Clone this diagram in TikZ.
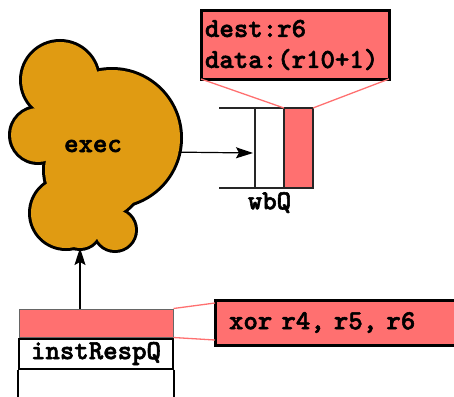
\documentclass[tikz,border=0pt]{standalone}
\usepackage{fontspec}
\usetikzlibrary{positioning, arrows.meta, calc}
\newfontfamily\codefont[FakeBold=2]{lmmonolt10-bold.otf}
\definecolor{qred}{RGB}{255,112,112}
\definecolor{execorange}{RGB}{224,155,18}

\begin{document}
\begin{tikzpicture}[x=1pt, y=-1pt,
font=\fontsize{27.5}{31}\codefont,
puff/.style={circle, fill=execorange, inner sep=0pt, outer sep=0pt},
slot/.style={
  draw=black!85, line width=1.3pt,
  minimum width=29pt, minimum height=80pt,
  inner sep=0pt, outer sep=0pt
},
tag/.style={
  draw, line width=3pt, fill=qred,
  inner sep=0pt, outer sep=0pt
},
link/.style={draw=qred, line width=1.3pt},
arrow/.style={-{Stealth[length=17pt,width=11pt,inset=3pt]}, line width=1.2pt}]

\useasboundingbox (0,0) rectangle (454,396);

% the exec cloud, built from puffs
\foreach \p/\x/\y/\r in {tl/60/80/38, l/38/135/27, big/112/138/68,
    mid/95/170/50, bl/66/213/35, bl2/80/228/20, br/115/230/20}
  \fill (\x,\y) circle[radius=\r+3];
\foreach \p/\x/\y/\r in {tl/60/80/38, l/38/135/27, big/112/138/68,
    mid/95/170/50, bl/66/213/35, bl2/80/228/20, br/115/230/20}
  \node (cloud-\p) [puff, minimum size=2*\r] at (\x,\y) {};
\node (exec) at (93,146) {exec};

% write-back queue
\node (slotA) [slot, fill=white] at (269.5,148) {};
\node (slotB) [slot, fill=qred, anchor=west] at (slotA.east) {};
\draw[line width=1.3pt, black!85] (slotB.north east) -- ([xshift=-36pt]slotA.north west);
\draw[line width=1.3pt, black!85] (slotB.south east) -- ([xshift=-36pt]slotA.south west);
\node (wbQ) [below=3pt of slotA, inner sep=1pt] {wbQ};

\node (wbHead) [tag, text width=180pt, inner xsep=4pt, inner ysep=4pt,
  minimum height=68pt, align=left] at (295,45)
  {dest:r6\\data:(r10+1)};
\draw[link] (wbHead.south west) -- (slotB.north west);
\draw[link] (wbHead.south east) -- (slotB.north east);

% instruction response queue
\node (respTop) [draw=black!60, line width=1pt, fill=qred,
  minimum width=154pt, minimum height=28pt] at (96,323) {};
\node (respLabel) [draw, line width=2pt, fill=white, inner sep=0pt,
  minimum width=154pt, minimum height=30pt, below=0pt of respTop] {instRespQ};
\draw[line width=1.3pt] (respLabel.south west) -- ([yshift=-32pt]respLabel.south west);
\draw[line width=1.3pt] (respLabel.south east) -- ([yshift=-32pt]respLabel.south east);

\node (instr) [tag, anchor=west, minimum height=45pt, text width=230pt,
  inner xsep=14pt, align=left] at (215,322.5) {xor r4, r5, r6};
\draw[link] (respTop.north east) -- ([yshift=-3pt]instr.north west);
\draw[link] (respTop.south east) -- ([yshift=5pt]instr.south west);

% data flow
\draw[arrow] (cloud-big.-12) -- ([xshift=-2pt, yshift=-5pt]slotA.west);
\draw[arrow] (respTop.north -| cloud-bl2.south) -- (cloud-bl2.south);
\end{tikzpicture}
\end{document}
